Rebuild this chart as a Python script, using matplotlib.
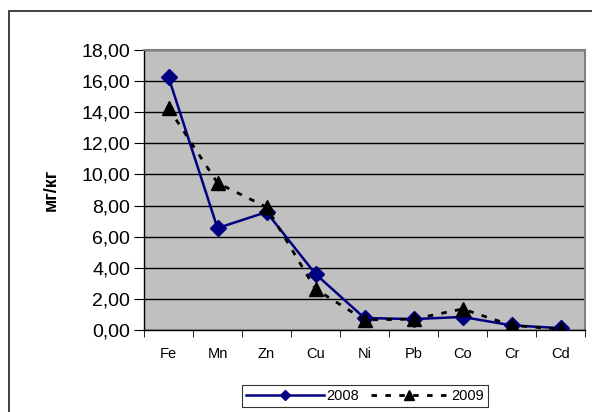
import matplotlib.pyplot as plt
from matplotlib.patches import Rectangle
from matplotlib.ticker import FuncFormatter

plt.rcParams['font.family'] = ['Liberation Sans', 'DejaVu Sans']

elements = ["Fe", "Mn", "Zn", "Cu", "Ni", "Pb", "Co", "Cr", "Cd"]
y2008 = [16.26, 6.55, 7.58, 3.60, 0.77, 0.70, 0.84, 0.30, 0.12]
y2009 = [14.27, 9.45, 7.90, 2.63, 0.65, 0.70, 1.35, 0.30, 0.05]
yticks = [0, 2, 4, 6, 8, 10, 12, 14, 16, 18]

fig = plt.figure(figsize=(5.92, 4.12), dpi=100)
# outer chart frame, only top and left edges fall inside the image
fig.patches.append(Rectangle((9 / 592, -10 / 412), 600 / 592, 411 / 412,
                             transform=fig.transFigure, fill=False,
                             edgecolor="#202020", linewidth=1.2))

ax = fig.add_axes([144 / 592, 82 / 412, 441 / 592, 280 / 412])
ax.set_facecolor("#C0C0C0")
x = list(range(len(elements)))

ax.plot(x, y2008, color="#000080", linewidth=1.8, marker="D", markersize=8,
        label="2008", zorder=3)
ax.plot(x, y2009, color="black", linewidth=2.0, linestyle=(0, (2, 3)),
        marker="^", markersize=10, label="2009", zorder=4)

ax.set_xlim(-0.5, len(elements) - 0.5)
ax.set_ylim(0, 18)
ax.set_yticks(yticks)
ax.yaxis.set_major_formatter(FuncFormatter(lambda v, p: f"{v:.2f}".replace(".", ",")))
ax.set_xticks(x)
ax.set_xticklabels(elements)
ax.set_xticks([i - 0.5 for i in range(len(elements) + 1)], minor=True)
ax.tick_params(axis="x", which="major", length=0, pad=12, labelsize=10.5)
ax.tick_params(axis="x", which="minor", length=5, direction="out")
ax.tick_params(axis="y", length=7, direction="out", labelsize=14, pad=3)
ax.grid(axis="y", color="black", linewidth=1.0)
ax.set_axisbelow(True)

for side in ["top", "right"]:
    ax.spines[side].set_color("#808080")
    ax.spines[side].set_linewidth(1.5)
for side in ["left", "bottom"]:
    ax.spines[side].set_color("black")
    ax.spines[side].set_linewidth(1.0)

ax.set_ylabel("мг/кг", fontsize=13, fontweight="bold")
ax.yaxis.set_label_coords(-0.19, 0.5)

leg = fig.legend(loc="center", bbox_to_anchor=(365 / 592, 16 / 412), ncol=2,
                 frameon=True, fancybox=False, edgecolor="black", fontsize=10.5,
                 handlelength=5.3, handletextpad=0.2, columnspacing=0.8,
                 borderpad=0.3, markerscale=0.7)
leg.get_frame().set_linewidth(0.8)

fig.savefig("out.png", dpi=100)
